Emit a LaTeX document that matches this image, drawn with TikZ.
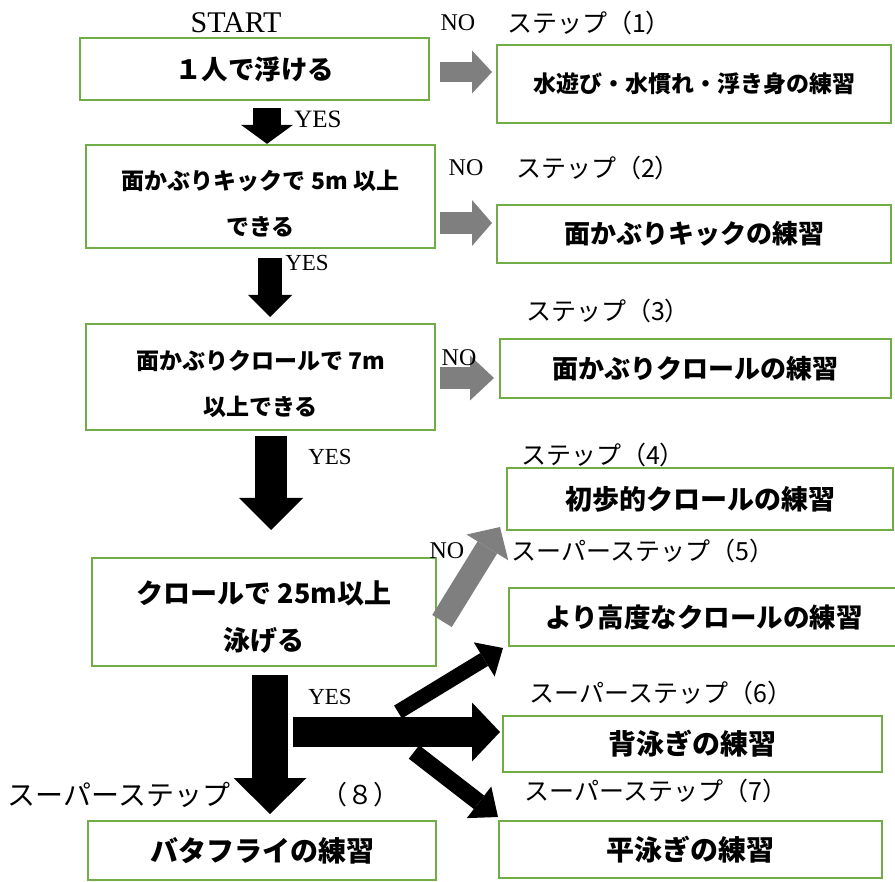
\documentclass[tikz,border=0pt]{standalone}
\usepackage{fontspec}
\setmainfont{Liberation Serif}
\newfontfamily\jp{Noto Sans CJK JP}
\usetikzlibrary{arrows.meta}
\definecolor{boxgreen}{HTML}{70AD47}
\definecolor{nogray}{HTML}{7F7F7F}
\newcommand{\fsz}[2]{\fontsize{#1}{#2}\selectfont}
\newcommand{\lift}[1]{\rule{0pt}{#1pt}}
\tikzset{
  box/.style 2 args={draw=boxgreen, line width=2.3pt, inner sep=0pt, align=center, font=\jp\bfseries\fsz{#1}{#2}},
  lbl/.style={inner sep=0pt, font=\jp\fsz{#1}{#1}},
  yn/.style={inner sep=0pt, font=\fsz{#1}{#1}},
  arr/.style n args={3}{line width=#1pt, -{Triangle[length=#3pt, width=#2pt, line width=0pt]}},
}
\begin{document}
\begin{tikzpicture}[x=1pt,y=-1pt]
    \useasboundingbox (0,0) rectangle (895,882);
    % linke Spalte
    \node[box={26.5}{26.5}, minimum width=349pt, minimum height=62pt] (float) at (254.5,69) {１人で浮ける};
    \node[box={23}{46}, minimum width=349pt, minimum height=103pt] (kick) at (260.5,196.5) {\lift{34}面かぶりキックで 5m 以上\\できる};
    \node[box={23}{46}, minimum width=349pt, minimum height=106pt] (crawl) at (260.5,377) {\lift{34}面かぶりクロールで 7m\\以上できる};
    \node[box={27}{47}, minimum width=344pt, minimum height=108pt] (swim) at (264,612) {\lift{33}クロールで 25m以上\\泳げる};
    \node[box={28}{28}, minimum width=348pt, minimum height=59pt] (fly) at (262,850.5) {バタフライの練習};
    % rechte Spalte
    \node[box={23}{23}, minimum width=394pt, minimum height=78pt] (play) at (694,84) {水遊び・水慣れ・浮き身の練習};
    \node[box={26}{26}, minimum width=394pt, minimum height=58pt] (kickp) at (694,234) {面かぶりキックの練習};
    \node[box={26}{26}, minimum width=391pt, minimum height=59pt] (crawlp) at (695.5,368.5) {面かぶりクロールの練習};
    \node[box={27}{27}, minimum width=386pt, minimum height=62pt] (basic) at (700,499) {初歩的クロールの練習};
    \node[box={26.5}{26.5}, minimum width=390pt, minimum height=58pt] (adv) at (704,617) {より高度なクロールの練習};
    \node[box={28}{28}, minimum width=379pt, minimum height=56pt] (back) at (692.5,744) {背泳ぎの練習};
    \node[box={28}{28}, minimum width=383pt, minimum height=57pt] (breast) at (690.5,849.5) {平泳ぎの練習};
    % YES-Pfeile
    \coordinate (y1) at (267,108);
    \coordinate (y2) at (270,258);
    \coordinate (y3) at (271,436);
    \coordinate (y4) at (270,675);
    \coordinate (yh) at (293,732);
    \coordinate (yu) at (398,712);
    \coordinate (yd) at (414,752);
    \draw[arr={28}{52}{19}] (y1) -- (y1 |- kick.north);
    \draw[arr={24}{44}{22}] (y2) -- ++(0,59);
    \draw[arr={32}{64}{32}] (y3) -- ++(0,94);
    \draw[arr={36}{73}{36}] (y4) -- ++(0,139);
    \draw[arr={30}{59}{28}] (yh) -- ++(207,0);
    \draw[arr={15}{40}{22}] (yu) -- ++(105,-64);
    \draw[arr={17}{40}{24}] (yd) -- ++(84,65);
    % NO-Pfeile
    \coordinate (n1) at (440,72);
    \coordinate (n2) at (440,223);
    \coordinate (n3) at (440,378);
    \coordinate (n4) at (442,621);
    \draw[arr={20}{43}{20}, color=nogray] (n1) -- ++(52,0);
    \draw[arr={22}{46}{20}, color=nogray] (n2) -- ++(52,0);
    \draw[arr={22}{45}{24}, color=nogray] (n3) -- ++(54,0);
    \draw[arr={23}{49}{24}, color=nogray] (n4) -- ++(58,-94);
    % Beschriftungen
    \node[yn=30] (start) at (236,23) {START};
    \node[yn=25] (yes1) at (318,119) {YES};
    \node[yn=23] (yes2) at (307,263) {YES};
    \node[yn=23] (yes3) at (330,457) {YES};
    \node[yn=23] (yes4) at (330,697) {YES};
    \node[yn=24] (no1) at (458,23) {NO};
    \node[yn=24] (no2) at (466,168) {NO};
    \node[yn=24] (no3) at (459,358) {NO};
    \node[yn=24] (no4) at (447,551) {NO};
    \node[lbl=25] (st1) at (589,23) {ステップ（1）};
    \node[lbl=25] (st2) at (598,168) {ステップ（2）};
    \node[lbl=25] (st3) at (608,311) {ステップ（3）};
    \node[lbl=25] (st4) at (603,455) {ステップ（4）};
    \node[lbl=25] (st5) at (643,551) {スーパーステップ（5）};
    \node[lbl=25] (st6) at (661,693) {スーパーステップ（6）};
    \node[lbl=25] (st7) at (656,791) {スーパーステップ（7）};
    \node[lbl=28] (st8) at (119,795) {スーパーステップ};
    \node[lbl=26] (st8n) at (360,795) {（８）};
\end{tikzpicture}
\end{document}
